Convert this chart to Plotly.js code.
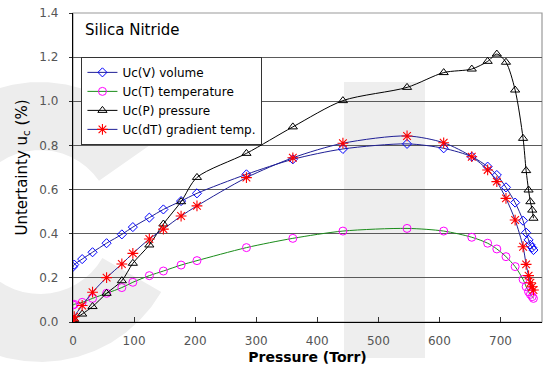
<!DOCTYPE html>
<html>
<head>
<meta charset="utf-8">
<script src="https://cdn.plot.ly/plotly-3.0.1.min.js"></script>
<style>html,body{margin:0;padding:0;background:#fff;}#chart{width:547px;height:374px;}</style>
</head>
<body>
<div id="chart"></div>
<script>
// Pressure (Torr)
const pressure = [0, 2, 15, 32, 55, 80, 98, 125, 148, 177, 203, 284, 360, 442, 547, 607, 653, 679, 694, 709, 724, 737, 742, 746, 749, 752, 754];
// Uncertainty series (%)
const ucVolume = [0.25, 0.26, 0.285, 0.316, 0.357, 0.397, 0.43, 0.473, 0.51, 0.548, 0.583, 0.669, 0.737, 0.784, 0.807, 0.787, 0.749, 0.704, 0.666, 0.61, 0.541, 0.459, 0.405, 0.372, 0.35, 0.337, 0.326];
const ucTemperature = [0.077, 0.08, 0.089, 0.107, 0.13, 0.156, 0.18, 0.21, 0.231, 0.258, 0.278, 0.337, 0.379, 0.412, 0.424, 0.412, 0.384, 0.357, 0.331, 0.296, 0.251, 0.193, 0.16, 0.137, 0.125, 0.115, 0.107];
const ucPressure = [0.006, 0.012, 0.036, 0.07, 0.13, 0.187, 0.266, 0.349, 0.444, 0.545, 0.655, 0.764, 0.884, 1.003, 1.063, 1.13, 1.146, 1.181, 1.214, 1.177, 1.051, 0.832, 0.686, 0.598, 0.545, 0.507, 0.47];
const ucGradient = [0.006, 0.024, 0.075, 0.135, 0.201, 0.263, 0.311, 0.376, 0.421, 0.48, 0.526, 0.654, 0.744, 0.81, 0.843, 0.812, 0.749, 0.689, 0.636, 0.56, 0.462, 0.341, 0.261, 0.21, 0.178, 0.16, 0.145];
const seriesNames = ["Uc(V) volume", "Uc(T) temperature", "Uc(P) pressure", "Uc(dT) gradient temp."];
const xTicks = [0, 100, 200, 300, 400, 500, 600, 700];
const yTicks = [0, 0.2, 0.4, 0.6, 0.8, 1.0, 1.2, 1.4];

const FONT = "DejaVu Sans, Liberation Sans, sans-serif";
const lineShape = {shape: "spline", smoothing: 0.8, width: 1};

const traces = [
  {x: pressure, y: ucVolume, name: seriesNames[0], mode: "lines+markers",
   line: Object.assign({color: "#1f1f96"}, lineShape),
   marker: {symbol: "diamond-open", size: 7, color: "#0000ff", line: {width: 1, color: "#0000ff"}}},
  {x: pressure, y: ucTemperature, name: seriesNames[1], mode: "lines+markers",
   line: Object.assign({color: "#1a8c1a"}, lineShape),
   marker: {symbol: "circle-open", size: 8, color: "#ff00ff", line: {width: 1, color: "#ff00ff"}}},
  {x: pressure, y: ucPressure, name: seriesNames[2], mode: "lines+markers",
   line: Object.assign({color: "#000000"}, lineShape),
   marker: {symbol: "triangle-up-open", size: 8, color: "#000000", line: {width: 1, color: "#000000"}}},
  {x: pressure, y: ucGradient, name: seriesNames[3], mode: "lines+markers",
   line: Object.assign({color: "#1f1f96"}, lineShape),
   marker: {symbol: "asterisk-open", size: 9, color: "#ff0000", line: {width: 1.1, color: "#ff0000"}}}
];

// plot-area geometry in pixels (for watermark placement)
const W = 547, H = 374, L = 73, R = 5, T = 13, B = 52;
const pw = W - L - R, ph = H - T - B;
const px = v => ((v - L) / pw).toFixed(4);
const py = v => ((H - B - v) / ph).toFixed(4);

function ringPath(cx, cy, ro, ri, a0, a1) {
  const rad = a => a * Math.PI / 180;
  const pts = [];
  const n = 40;
  for (let i = 0; i <= n; i++) {
    const a = rad(a0 + (a1 - a0) * i / n);
    pts.push([cx + ro * Math.cos(a), cy - ro * Math.sin(a)]);
  }
  for (let i = n; i >= 0; i--) {
    const a = rad(a0 + (a1 - a0) * i / n);
    pts.push([cx + ri * Math.cos(a), cy - ri * Math.sin(a)]);
  }
  return "M " + pts.map(p => px(p[0]) + "," + py(p[1])).join(" L ") + " Z";
}

const shapes = [
  {type: "path", xref: "paper", yref: "paper", layer: "below",
   path: ringPath(40, 222, 140, 72, 35, 330), fillcolor: "#ededed", line: {width: 0}},
  {type: "rect", xref: "paper", yref: "paper", layer: "below",
   x0: px(344), x1: px(425), y0: py(358), y1: py(82), fillcolor: "#eeeeee", line: {width: 0}},
  {type: "rect", xref: "paper", yref: "paper", layer: "below",
   x0: 0, x1: 1, y0: 0, y1: 1, line: {color: "#9a9a9a", width: 1.2}, fillcolor: "rgba(0,0,0,0)"}
];

const layout = {
  width: W, height: H,
  margin: {l: L, r: R, t: T, b: B},
  paper_bgcolor: "#ffffff",
  plot_bgcolor: "rgba(0,0,0,0)",
  font: {family: FONT, size: 13, color: "#000"},
  showlegend: true,
  legend: {x: 0.018, y: 0.858, xanchor: "left", yanchor: "top",
           bgcolor: "#ffffff", bordercolor: "#333333", borderwidth: 1,
           font: {family: FONT, size: 12, color: "#000"}, tracegroupgap: 0},
  xaxis: {range: [0, 768], tickvals: xTicks, ticktext: xTicks.map(String),
          ticks: "inside", ticklen: 5, tickcolor: "#333", tickwidth: 1,
          showline: true, linecolor: "#000", linewidth: 1.2, showgrid: false, zeroline: false,
          tickfont: {family: FONT, size: 12, color: "#555"}, ticklabelstandoff: 7,
          title: {text: "<b>Pressure (Torr)</b>", font: {family: FONT, size: 14, color: "#000"}, standoff: 5}},
  yaxis: {range: [0, 1.4], tickvals: yTicks, ticktext: yTicks.map(v => v.toFixed(1)),
          ticks: "outside", ticklen: 3, tickcolor: "#333",
          showline: true, linecolor: "#000", linewidth: 1.2, showgrid: true, gridcolor: "#5a5a5a", gridwidth: 1,
          zeroline: false,
          tickfont: {family: FONT, size: 12, color: "#555"}, ticklabelstandoff: 8,
          title: {text: "Untertainty u<sub>c</sub> (%)", font: {family: FONT, size: 15, color: "#000"}, standoff: 8}},
  shapes: shapes,
  annotations: [
    {text: "Silica Nitride", xref: "paper", yref: "paper", x: px(83), y: py(30),
     xanchor: "left", yanchor: "middle", showarrow: false,
     font: {family: FONT, size: 15, color: "#000"}}
  ]
};

Plotly.newPlot("chart", traces, layout, {staticPlot: true, displayModeBar: false});
</script>
</body>
</html>
